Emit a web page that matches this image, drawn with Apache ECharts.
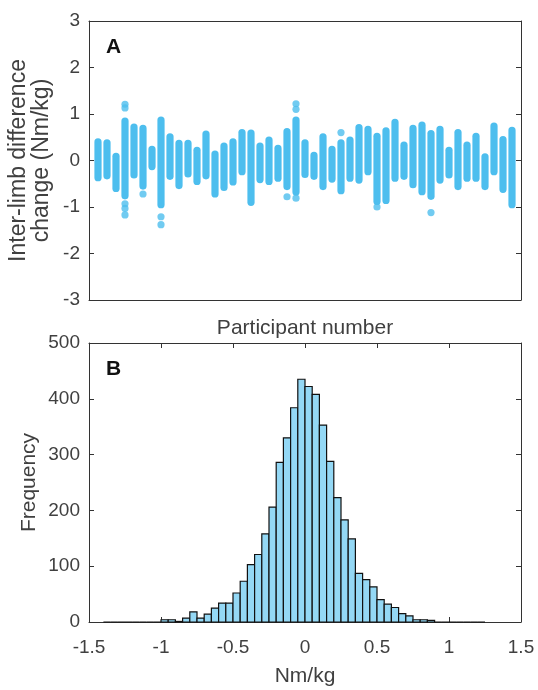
<!DOCTYPE html>
<html>
<head>
<meta charset="utf-8">
<title>Inter-limb difference change</title>
<script src="https://cdn.jsdelivr.net/npm/echarts@6.0.0/dist/echarts.min.js"></script>
<style>
  html, body { margin: 0; padding: 0; background: #fff; }
  #chart { width: 538px; height: 690px; }
</style>
</head>
<body>
<div id="chart"></div>
<script>
// Panel A: per-participant spread of inter-limb difference change (Nm/kg)
const participants = [1, 2, 3, 4, 5, 6, 7, 8, 9, 10, 11, 12, 13, 14, 15, 16, 17, 18, 19, 20,
  21, 22, 23, 24, 25, 26, 27, 28, 29, 30, 31, 32, 33, 34, 35, 36, 37, 38, 39, 40,
  41, 42, 43, 44, 45, 46, 47]
const highValues = [0.40, 0.38, 0.09, 0.85, 0.72, 0.69, 0.24, 0.87, 0.51, 0.37, 0.37, 0.22,
  0.57, 0.14, 0.31, 0.40, 0.60, 0.59, 0.31, 0.44, 0.26, 0.62, 0.87, 0.38, 0.11, 0.51,
  0.24, 0.38, 0.44, 0.71, 0.67, 0.52, 0.64, 0.82, 0.33, 0.69, 0.76, 0.58, 0.67, 0.22,
  0.60, 0.33, 0.52, 0.08, 0.74, 0.45, 0.65]
const lowValues = [-0.37, -0.33, -0.60, -0.76, -0.31, -0.55, -0.13, -0.95, -0.34, -0.54, -0.29, -0.45,
  -0.33, -0.72, -0.58, -0.46, -0.24, -0.90, -0.41, -0.45, -0.38, -0.56, -0.68, -0.30, -0.34, -0.56,
  -0.40, -0.65, -0.38, -0.42, -0.24, -0.88, -0.86, -0.38, -0.34, -0.52, -0.67, -0.77, -0.42, -0.31,
  -0.56, -0.38, -0.38, -0.56, -0.24, -0.62, -0.95]
// isolated points outside the main column: [participant, value]
const outlierPoints = [
  [4, 1.21], [4, 1.13], [4, -0.93], [4, -1.03], [4, -1.17],
  [6, -0.72],
  [8, -1.21], [8, -1.38],
  [22, -0.78],
  [23, 1.22], [23, 1.10], [23, -0.81],
  [28, 0.60],
  [32, -1.00],
  [38, -1.12]
]

// Panel B: histogram, 0.05 Nm/kg bins starting at -1.4
const binStart = -1.4
const binWidth = 0.05
const binCounts = [0, 0, 0, 0, 0, 0, 0, 0,
  4, 4, 1, 7, 18, 7, 14, 25, 34, 34, 52, 73, 103, 121, 158, 206, 286, 330, 384, 435,
  422, 408, 353, 288, 223, 183, 149, 87, 76, 63, 40, 32, 26, 15, 11, 4, 4, 3,
  0, 0, 0, 0, 0, 0, 0]

const yTicksA = { min: -3, max: 3, interval: 1 }
const xTicksB = { min: -1.5, max: 1.5, interval: 0.5 }
const yTicksB = { min: 0, max: 500, interval: 100 }

const dotColor = '#4DBEEE'
const barColor = '#94D8F5'
const inkColor = '#333'
const labelColor = '#404040'
const fontFamily = '"Liberation Sans", Arial, Helvetica, sans-serif'
const R = 3.6

const chart = echarts.init(document.getElementById('chart'), null, { renderer: 'canvas' })

const line = { show: true, onZero: false, lineStyle: { color: inkColor, width: 1 } }
const tickIn = { show: true, inside: true, length: 5, lineStyle: { color: inkColor, width: 1 } }
const noTick = { show: false }
const noLabel = { show: false }
const noSplit = { show: false }
const tickLabel = { color: labelColor, fontSize: 19, fontFamily }

const columnData = participants.map((p, i) => [p, lowValues[i], highValues[i]])
const histData = binCounts.map((c, i) => [binStart + i * binWidth, binStart + (i + 1) * binWidth, c])

chart.setOption({
  animation: false,
  backgroundColor: '#fff',
  grid: [
    { left: 89, right: 17, top: 21, bottom: 390, outerBoundsMode: 'none' },
    { left: 89, right: 17, top: 343, bottom: 68, outerBoundsMode: 'none' }
  ],
  xAxis: [
    {
      gridIndex: 0, type: 'value', min: 0, max: 48, position: 'bottom',
      axisLine: line, axisTick: noTick, axisLabel: noLabel, splitLine: noSplit,
      name: 'Participant number', nameLocation: 'middle', nameGap: 18, nameMoveOverlap: false,
      nameTextStyle: { color: labelColor, fontSize: 21, fontFamily }
    },
    {
      gridIndex: 0, type: 'value', min: 0, max: 48, position: 'top',
      axisLine: line, axisTick: noTick, axisLabel: noLabel, splitLine: noSplit
    },
    {
      gridIndex: 1, type: 'value', ...xTicksB, position: 'bottom',
      axisLine: line, axisTick: tickIn, splitLine: noSplit,
      axisLabel: { ...tickLabel, margin: 16 },
      name: 'Nm/kg', nameLocation: 'middle', nameGap: 44, nameMoveOverlap: false,
      nameTextStyle: { color: labelColor, fontSize: 21, fontFamily }
    },
    {
      gridIndex: 1, type: 'value', ...xTicksB, position: 'top',
      axisLine: line, axisTick: tickIn, axisLabel: noLabel, splitLine: noSplit
    }
  ],
  yAxis: [
    {
      gridIndex: 0, type: 'value', ...yTicksA, position: 'left',
      axisLine: line, axisTick: tickIn, splitLine: noSplit,
      axisLabel: { ...tickLabel, margin: 9 },
      name: 'Inter-limb difference\nchange (Nm/kg)', nameLocation: 'middle', nameGap: 36,
      nameMoveOverlap: false,
      nameTextStyle: { color: labelColor, fontSize: 23, lineHeight: 23, fontFamily }
    },
    {
      gridIndex: 0, type: 'value', ...yTicksA, position: 'right',
      axisLine: line, axisTick: tickIn, axisLabel: noLabel, splitLine: noSplit
    },
    {
      gridIndex: 1, type: 'value', ...yTicksB, position: 'left',
      axisLine: line, axisTick: tickIn, splitLine: noSplit,
      axisLabel: { ...tickLabel, margin: 9 },
      name: 'Frequency', nameLocation: 'middle', nameGap: 49, nameMoveOverlap: false,
      nameTextStyle: { color: labelColor, fontSize: 21, fontFamily }
    },
    {
      gridIndex: 1, type: 'value', ...yTicksB, position: 'right',
      axisLine: line, axisTick: tickIn, axisLabel: noLabel, splitLine: noSplit
    }
  ],
  graphic: [
    { type: 'text', left: 106, top: 37, style: { text: 'A', fontSize: 21, fontWeight: 'bold', fill: '#111', fontFamily } },
    { type: 'text', left: 106, top: 359, style: { text: 'B', fontSize: 21, fontWeight: 'bold', fill: '#111', fontFamily } }
  ],
  series: [
    {
      type: 'custom',
      xAxisIndex: 0,
      yAxisIndex: 0,
      data: columnData,
      encode: { x: 0, y: [1, 2] },
      renderItem: (params, api) => {
        const top = api.coord([api.value(0), api.value(2)])
        const bot = api.coord([api.value(0), api.value(1)])
        return {
          type: 'rect',
          shape: { x: top[0] - R, y: top[1] - R, width: 2 * R, height: bot[1] - top[1] + 2 * R, r: R },
          style: { fill: dotColor }
        }
      }
    },
    {
      type: 'scatter',
      xAxisIndex: 0,
      yAxisIndex: 0,
      data: outlierPoints,
      symbolSize: 2 * R,
      itemStyle: { color: dotColor }
    },
    {
      type: 'custom',
      xAxisIndex: 2,
      yAxisIndex: 2,
      data: histData,
      encode: { x: [0, 1], y: 2 },
      renderItem: (params, api) => {
        const p0 = api.coord([api.value(0), api.value(2)])
        const p1 = api.coord([api.value(1), 0])
        return {
          type: 'rect',
          shape: { x: p0[0], y: p0[1], width: p1[0] - p0[0], height: p1[1] - p0[1] },
          style: { fill: barColor, stroke: '#111', lineWidth: 1.2 }
        }
      }
    }
  ]
})
</script>
</body>
</html>
